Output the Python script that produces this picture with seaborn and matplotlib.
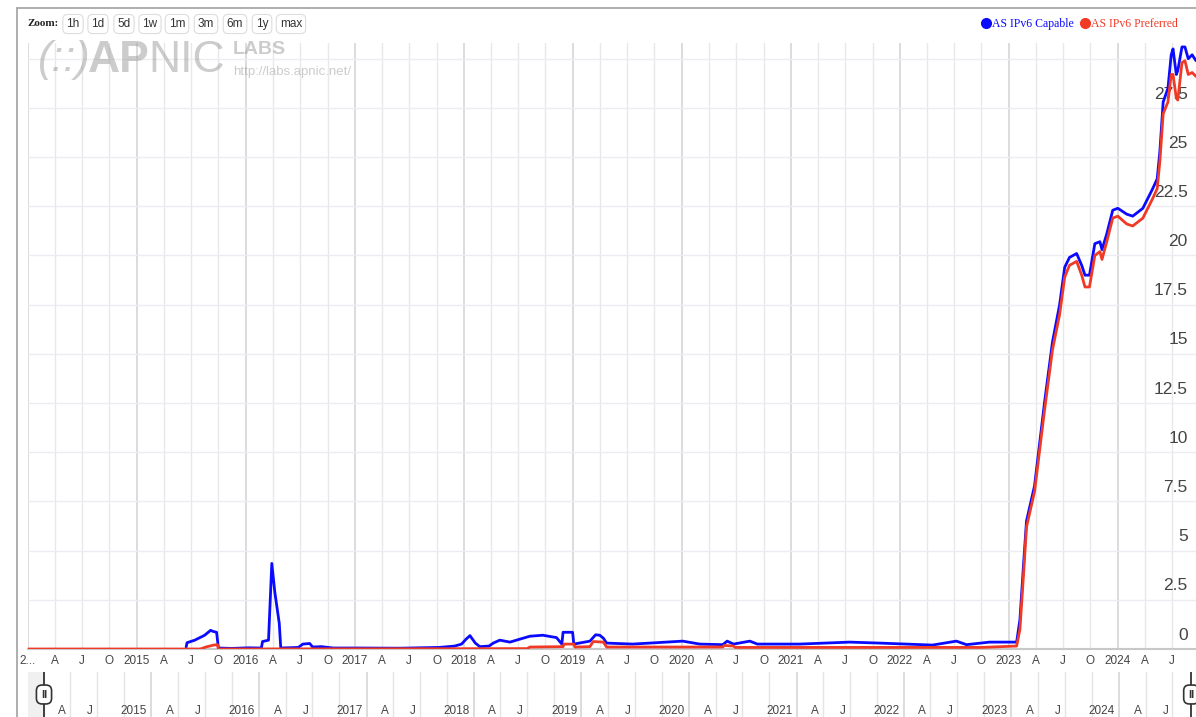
import numpy as np
import pandas as pd
import seaborn as sns
import matplotlib.pyplot as plt
import matplotlib.dates as mdates
from matplotlib.lines import Line2D

# AS IPv6 Capable (percent)
capable_dates = [
    "2015-06-15", "2015-06-18", "2015-07-14", "2015-08-16", "2015-09-05", "2015-09-12",
    "2015-09-25", "2015-10-01", "2015-11-15", "2016-01-10", "2016-02-22", "2016-02-26",
    "2016-03-17", "2016-03-28", "2016-04-07", "2016-04-22", "2016-04-27", "2016-06-25",
    "2016-07-10", "2016-08-02", "2016-08-12", "2016-09-10", "2016-10-20", "2017-01-15",
    "2017-06-01", "2017-10-10", "2017-12-01", "2017-12-24", "2018-01-08", "2018-01-21",
    "2018-02-08", "2018-02-23", "2018-03-26", "2018-04-09", "2018-05-01", "2018-06-04",
    "2018-07-07", "2018-08-10", "2018-09-22", "2018-11-07", "2018-11-25", "2018-11-29",
    "2018-12-31", "2019-01-04", "2019-02-27", "2019-03-18", "2019-04-01", "2019-04-13",
    "2019-04-24", "2019-07-20", "2019-11-10", "2020-01-04", "2020-03-01", "2020-05-17",
    "2020-06-01", "2020-06-22", "2020-08-16", "2020-09-10", "2021-01-30", "2021-07-16",
    "2021-10-25", "2022-04-20", "2022-07-09", "2022-08-12", "2022-10-28", "2023-01-27",
    "2023-02-07", "2023-02-20", "2023-03-01", "2023-03-28", "2023-05-01", "2023-05-27",
    "2023-06-20", "2023-07-07", "2023-07-23", "2023-08-16", "2023-09-02", "2023-09-13",
    "2023-09-28", "2023-10-16", "2023-11-02", "2023-11-09", "2023-11-25", "2023-12-15",
    "2024-01-01", "2024-01-31", "2024-02-20", "2024-03-25", "2024-04-27", "2024-05-12",
    "2024-05-21", "2024-06-01", "2024-06-17", "2024-06-28", "2024-07-04", "2024-07-15",
    "2024-07-20", "2024-08-03", "2024-08-13", "2024-08-24", "2024-09-06", "2024-09-19",
]
capable_pct = [
    0.10, 0.32, 0.45, 0.70, 0.95, 0.90,
    0.85, 0.05, 0.03, 0.06, 0.05, 0.38,
    0.45, 4.35, 2.90, 1.30, 0.05, 0.08,
    0.25, 0.28, 0.10, 0.12, 0.05, 0.05,
    0.04, 0.08, 0.15, 0.25, 0.50, 0.68,
    0.30, 0.12, 0.15, 0.30, 0.45, 0.35,
    0.50, 0.65, 0.70, 0.58, 0.25, 0.85,
    0.85, 0.25, 0.40, 0.72, 0.70, 0.55,
    0.30, 0.25, 0.35, 0.40, 0.25, 0.22,
    0.40, 0.25, 0.40, 0.25, 0.25, 0.35,
    0.30, 0.20, 0.40, 0.22, 0.35, 0.35,
    1.5, 4.5, 6.5, 8.3, 12.6, 15.6,
    17.5, 19.4, 19.9, 20.1, 19.5, 19.0,
    19.0, 20.6, 20.7, 20.3, 21.1, 22.3,
    22.4, 22.1, 22.0, 22.4, 23.4, 23.9,
    25.3, 27.8, 28.5, 30.2, 30.5, 29.2,
    29.4, 30.6, 30.6, 30.0, 30.2, 29.9,
]

# AS IPv6 Preferred (percent)
preferred_dates = [
    "2014-01-01", "2015-08-01", "2015-08-20", "2015-09-15", "2015-09-28", "2015-10-01",
    "2018-08-01", "2018-08-10", "2018-11-29", "2018-12-02", "2019-01-04", "2019-01-08",
    "2019-02-27", "2019-03-10", "2019-04-13", "2019-04-24", "2020-05-17", "2020-05-22",
    "2020-06-22", "2020-06-28", "2021-06-01", "2022-10-01", "2023-01-27",
    "2023-02-07", "2023-02-20", "2023-03-01", "2023-03-28", "2023-05-01", "2023-05-27",
    "2023-06-20", "2023-07-07", "2023-07-23", "2023-08-16", "2023-09-02", "2023-09-13",
    "2023-09-28", "2023-10-16", "2023-11-02", "2023-11-09", "2023-11-25", "2023-12-15",
    "2024-01-01", "2024-01-31", "2024-02-20", "2024-03-25", "2024-04-27", "2024-05-12",
    "2024-05-21", "2024-06-01", "2024-06-17", "2024-06-28", "2024-07-04", "2024-07-15",
    "2024-07-20", "2024-08-03", "2024-08-13", "2024-08-24", "2024-09-06", "2024-09-19",
]
preferred_pct = [
    0.0, 0.0, 0.10, 0.20, 0.22, 0.0,
    0.02, 0.10, 0.12, 0.25, 0.25, 0.10,
    0.12, 0.38, 0.35, 0.10, 0.10, 0.18,
    0.15, 0.08, 0.08, 0.08, 0.15,
    1.0, 4.0, 6.2, 8.0, 12.2, 15.2,
    17.0, 18.9, 19.5, 19.7, 19.0, 18.4,
    18.4, 20.0, 20.2, 19.8, 20.7, 21.9,
    22.0, 21.6, 21.5, 21.9, 22.9, 23.4,
    24.8, 27.2, 27.8, 29.2, 29.2, 28.0,
    27.9, 29.8, 29.9, 29.2, 29.3, 29.1,
]

series_names = ["AS IPv6 Capable", "AS IPv6 Preferred"]
series_colors = ["#0a0aff", "#f03a26"]
y_ticks = [0, 2.5, 5, 7.5, 10, 12.5, 15, 17.5, 20, 22.5, 25, 27.5, 30]
y_tick_labels = ["0", "2.5", "5", "7.5", "10", "12.5", "15", "17.5", "20", "22.5", "25", "27.5", ""]
quarter_labels = {1: None, 4: "A", 7: "J", 10: "O"}
zoom_buttons = ["1h", "1d", "5d", "1w", "1m", "3m", "6m", "1y", "max"]

df = pd.concat([
    pd.DataFrame({"date": pd.to_datetime(capable_dates), "pct": capable_pct, "series": series_names[0]}),
    pd.DataFrame({"date": pd.to_datetime(preferred_dates), "pct": preferred_pct, "series": series_names[1]}),
])

sns.set_theme(style="white")
plt.rcParams["font.family"] = ["Liberation Sans", "DejaVu Sans"]

W, H = 1196, 717
fig = plt.figure(figsize=(W / 100, H / 100), dpi=100)
fig.patch.set_facecolor("white")

# main plot area
ax = fig.add_axes([28 / W, (H - 649) / H, 1 - 28 / W, (649 - 43) / H])
start = pd.Timestamp("2014-01-01")
end = start + pd.Timedelta(days=10.716 * 365.25)
ax.set_xlim(start, end)
ax.set_ylim(0, 30.8)

sns.lineplot(data=df, x="date", y="pct", hue="series", palette=dict(zip(series_names, series_colors)),
             estimator=None, sort=False, linewidth=2.0, legend=False, ax=ax, zorder=3)

year_ticks = pd.date_range("2014-01-01", "2024-01-01", freq="YS")
quarter_ticks = [d for d in pd.date_range("2014-01-01", end, freq="QS") if d.month != 1]
ax.set_xticks(year_ticks)
ax.set_xticks(quarter_ticks, minor=True)
year_lbls = [str(d.year) for d in year_ticks]
year_lbls[0] = "2..."
ax.set_xticklabels(year_lbls)
ax.set_xticklabels([quarter_labels[d.month] for d in quarter_ticks], minor=True)
ax.tick_params(axis="x", which="both", length=0, pad=4.5, labelsize=8.5, labelcolor="#444444")
ax.grid(axis="x", which="major", color="#d2d2d2", linewidth=1.1)
ax.grid(axis="x", which="minor", color="#e8e8e8", linewidth=1.0)

ax.set_yticks(y_ticks)
ax.set_yticklabels([])
ax.tick_params(axis="y", length=0)
ax.grid(axis="y", color="#ececf2", linewidth=1.0)
for v, lbl in zip(y_ticks, y_tick_labels):
    ax.annotate(lbl, xy=(1, v), xycoords=ax.get_yaxis_transform(), xytext=(-6, 10),
                textcoords="offset points", ha="right", va="center", fontsize=12.5,
                color="#444444", zorder=2)

ax.set_xlabel("")
ax.set_ylabel("")
for s in ["top", "right", "left"]:
    ax.spines[s].set_visible(False)
ax.spines["bottom"].set_color("#c8c8c8")
ax.spines["bottom"].set_linewidth(1.5)

# navigator strip
nav = fig.add_axes([28 / W, 0, 1 - 28 / W, (H - 672) / H])
nav_start = start - pd.Timedelta(days=16 / 107.5 * 365.25)
nav_end = nav_start + pd.Timedelta(days=(W - 28) / 107.5 * 365.25)
nav.set_xlim(nav_start, nav_end)
nav.set_ylim(0, 1)
nav.set_yticks([])
nav.set_xticks(year_ticks)
nav.set_xticks(quarter_ticks, minor=True)
nav.tick_params(axis="x", which="both", length=0, labelbottom=False)
nav.grid(axis="x", which="major", color="#d2d2d2", linewidth=1.1)
nav.grid(axis="x", which="minor", color="#e4e4e4", linewidth=1.0)
for s in nav.spines.values():
    s.set_visible(False)
for d in list(year_ticks[1:]) + quarter_ticks:
    lbl = str(d.year) if d.month == 1 else quarter_labels[d.month]
    if lbl == "O":
        continue
    nav.annotate(lbl, xy=(mdates.date2num(d), 0), xycoords=nav.get_xaxis_transform(), xytext=(-3, 4.3),
                 textcoords="offset points", ha="right", va="center", fontsize=8.5, color="#444444")
range_end = pd.Timestamp("2024-09-03")
nav.axvspan(nav_start, start, color="#f0f0f0", zorder=0)
for d in [start, range_end]:
    nav.axvline(d, color="#333333", linewidth=1.3, zorder=4)
    nav.annotate("II", xy=(mdates.date2num(d), 0.5), xycoords=("data", "axes fraction"),
                 ha="center", va="center", fontsize=8, fontweight="bold", color="#333333", zorder=5,
                 bbox=dict(boxstyle="round,pad=0.4,rounding_size=0.5", fc="white", ec="#333333", lw=1.2))

# outer frame
fig.add_artist(Line2D([17 / W, 17 / W], [0, (H - 8) / H], color="#a8a8a8", linewidth=1.3))
fig.add_artist(Line2D([17 / W, 1], [(H - 8) / H, (H - 8) / H], color="#a8a8a8", linewidth=1.3))

# zoom buttons
fig.text(28 / W, (H - 24) / H, "Zoom:", fontsize=8, fontweight="bold", family="Liberation Serif",
         color="#222222", va="center", ha="left")
btn_x = [73, 98, 124, 150, 177, 206, 235, 262, 291]
for bx, b in zip(btn_x, zoom_buttons):
    fig.text(bx / W, (H - 24) / H, b, fontsize=8.5, color="#333333", ha="center", va="center",
             bbox=dict(boxstyle="round,pad=0.3,rounding_size=0.4", fc="white", ec="#dddddd", lw=0.8))

# watermark logo
logo_kw = dict(color="#9a9a9a", alpha=0.5, va="center", ha="left")
fig.text(38 / W, (H - 60) / H, "(::)", fontsize=31, style="italic", **logo_kw)
fig.text(88 / W, (H - 60) / H, "AP", fontsize=32, fontweight="bold", **logo_kw)
fig.text(148 / W, (H - 60) / H, "NIC", fontsize=32, **logo_kw)
fig.text(233 / W, (H - 50) / H, "LABS", fontsize=14, fontweight="bold", **logo_kw)
fig.text(233 / W, (H - 72) / H, "http://labs.apnic.net/", fontsize=9.5, **logo_kw)

# legend
handles = [Line2D([], [], marker="o", linestyle="none", markersize=7, color=c) for c in series_colors]
fig.legend(handles, series_names, loc="upper right", bbox_to_anchor=(1178 / W, (H - 18) / H),
           ncol=2, frameon=False, borderpad=0, borderaxespad=0, handlelength=0.6,
           handletextpad=0.2, columnspacing=0.7, labelcolor=series_colors,
           prop={"family": "Liberation Serif", "size": 8.5})

fig.savefig("out.png", dpi=100, facecolor="white")
